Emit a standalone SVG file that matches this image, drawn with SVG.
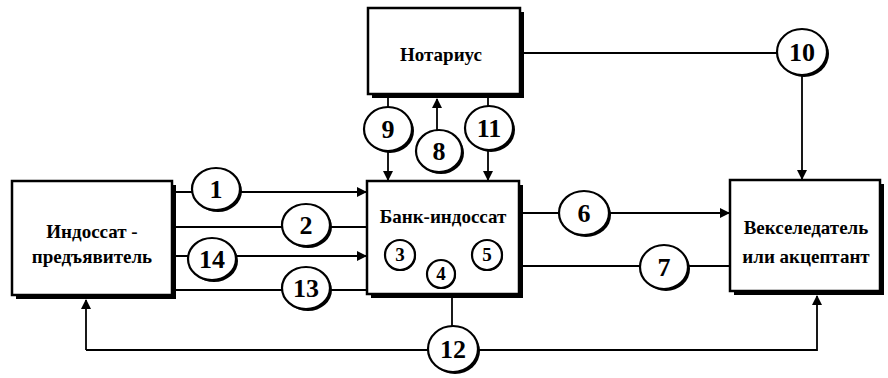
<svg xmlns="http://www.w3.org/2000/svg" width="888" height="378" viewBox="0 0 888 378">
<defs>
<marker id="arr" markerUnits="userSpaceOnUse" markerWidth="10" markerHeight="10" refX="9" refY="5" orient="auto">
<path d="M0,0 L10,5 L0,10 z" fill="#000"/>
</marker>
</defs>
<style>
.ln{fill:none;stroke:#000;stroke-width:1.8}
.bx{fill:#fff;stroke:#000;stroke-width:2.5}
.sh{fill:#000}
.cc{fill:#fff;stroke:#000;stroke-width:2.2}
.lb{font-family:"Liberation Serif",serif;font-weight:bold;font-size:19px;text-anchor:middle;fill:#000}
.nm{font-family:"Liberation Serif",serif;font-weight:bold;font-size:26px;text-anchor:middle;fill:#000}
.ns{font-family:"Liberation Serif",serif;font-weight:bold;font-size:19px;text-anchor:middle;fill:#000}
</style>
<rect width="888" height="378" fill="#fff"/>
<g id="connectors">
<path class="ln" d="M176,192 H366" marker-end="url(#arr)"/>
<path class="ln" d="M176,227 H367"/>
<path class="ln" d="M176,256 H366" marker-end="url(#arr)"/>
<path class="ln" d="M176,290 H367"/>
<path class="ln" d="M523,213 H729" marker-end="url(#arr)"/>
<path class="ln" d="M523,266 H730"/>
<path class="ln" d="M524,53 H802 V179" marker-end="url(#arr)"/>
<path class="ln" d="M388,98 V180" marker-end="url(#arr)"/>
<path class="ln" d="M437,130 V99" marker-end="url(#arr)"/>
<path class="ln" d="M488,98 V180" marker-end="url(#arr)"/>
<path class="ln" d="M452,296 V350"/>
<path class="ln" d="M86,350 V300" marker-end="url(#arr)"/>
<path class="ln" d="M86,350 H817 V296" marker-end="url(#arr)"/>
</g>
<g id="indossat">
<rect class="sh" x="16" y="185" width="160" height="114"/>
<rect class="bx" x="12" y="181" width="160" height="114"/>
<text class="lb" x="92" y="238">Индоссат -</text>
<text class="lb" x="92" y="263">предъявитель</text>
</g>
<g id="bank">
<rect class="sh" x="371" y="185" width="152" height="113"/>
<rect class="bx" x="367" y="181" width="152" height="113"/>
<text class="lb" x="443" y="223">Банк-индоссат</text>
</g>
<g id="notarius">
<rect class="sh" x="372" y="12" width="152" height="86"/>
<rect class="bx" x="368" y="8" width="152" height="86"/>
<text class="lb" x="441" y="61">Нотариус</text>
</g>
<g id="veksel">
<rect class="sh" x="734" y="184" width="150" height="111"/>
<rect class="bx" x="730" y="180" width="150" height="111"/>
<text class="lb" x="806" y="234">Векселедатель</text>
<text class="lb" x="806" y="263">или акцептант</text>
</g>
<g id="c1"><ellipse class="sh" cx="218" cy="191" rx="24" ry="21"/><ellipse class="cc" cx="216" cy="189" rx="24" ry="21"/><text class="nm" x="216" y="198">1</text></g>
<g id="c2"><ellipse class="sh" cx="308" cy="227" rx="24" ry="21"/><ellipse class="cc" cx="306" cy="225" rx="24" ry="21"/><text class="nm" x="306" y="234">2</text></g>
<g id="c14"><ellipse class="sh" cx="214" cy="261" rx="24" ry="21"/><ellipse class="cc" cx="212" cy="259" rx="24" ry="21"/><text class="nm" x="212" y="268">14</text></g>
<g id="c13"><ellipse class="sh" cx="308" cy="290" rx="24" ry="21"/><ellipse class="cc" cx="306" cy="288" rx="24" ry="21"/><text class="nm" x="306" y="297">13</text></g>
<g id="c9"><ellipse class="sh" cx="390" cy="131" rx="24" ry="22"/><ellipse class="cc" cx="388" cy="129" rx="24" ry="22"/><text class="nm" x="388" y="138">9</text></g>
<g id="c8"><ellipse class="sh" cx="441" cy="153" rx="23" ry="21"/><ellipse class="cc" cx="439" cy="151" rx="23" ry="21"/><text class="nm" x="439" y="160">8</text></g>
<g id="c11"><ellipse class="sh" cx="491" cy="130" rx="24" ry="22"/><ellipse class="cc" cx="489" cy="128" rx="24" ry="22"/><text class="nm" x="489" y="137">11</text></g>
<g id="c10"><ellipse class="sh" cx="804" cy="54" rx="25" ry="23"/><ellipse class="cc" cx="802" cy="52" rx="25" ry="23"/><text class="nm" x="802" y="61">10</text></g>
<g id="c6"><ellipse class="sh" cx="586" cy="215" rx="25" ry="22"/><ellipse class="cc" cx="584" cy="213" rx="25" ry="22"/><text class="nm" x="584" y="222">6</text></g>
<g id="c7"><ellipse class="sh" cx="666" cy="269" rx="24" ry="22"/><ellipse class="cc" cx="664" cy="267" rx="24" ry="22"/><text class="nm" x="664" y="276">7</text></g>
<g id="c12"><ellipse class="sh" cx="455" cy="351" rx="25" ry="23"/><ellipse class="cc" cx="453" cy="349" rx="25" ry="23"/><text class="nm" x="453" y="358">12</text></g>
<g id="c3"><ellipse class="sh" cx="401" cy="256" rx="15" ry="15"/><ellipse class="cc" cx="400" cy="255" rx="15" ry="15"/><text class="ns" x="400" y="261">3</text></g>
<g id="c4"><ellipse class="sh" cx="442" cy="275" rx="14" ry="14"/><ellipse class="cc" cx="441" cy="274" rx="14" ry="14"/><text class="ns" x="441" y="280">4</text></g>
<g id="c5"><ellipse class="sh" cx="488" cy="256" rx="15" ry="15"/><ellipse class="cc" cx="487" cy="255" rx="15" ry="15"/><text class="ns" x="487" y="261">5</text></g>
</svg>
